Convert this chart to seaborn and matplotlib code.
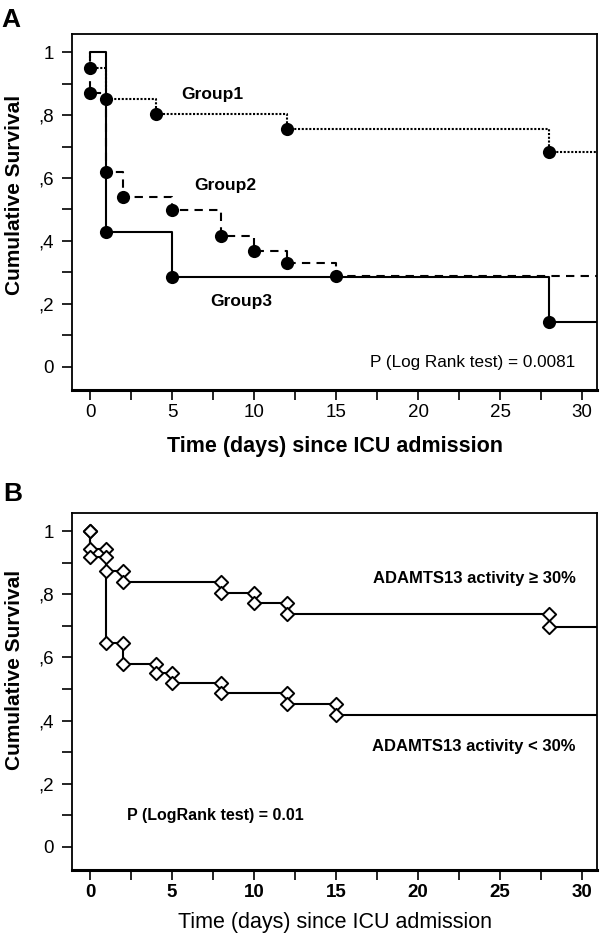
import numpy as np
import pandas as pd
import seaborn as sns
import matplotlib.pyplot as plt
from matplotlib.ticker import MultipleLocator

sns.set_style("ticks")
plt.rcParams['font.family'] = ['Liberation Sans', 'DejaVu Sans']
plt.rcParams['text.color'] = 'black'
plt.rcParams['axes.labelcolor'] = 'black'

# Panel A: Kaplan-Meier steps (time in days, cumulative survival)
g1_t = [0, 0, 1, 4, 12, 28, 31]
g1_s = [1.0, 0.951, 0.852, 0.804, 0.755, 0.684, 0.684]
g2_t = [0, 0, 1, 2, 5, 8, 10, 12, 15, 31]
g2_s = [1.0, 0.870, 0.620, 0.539, 0.498, 0.417, 0.369, 0.329, 0.288, 0.288]
g3_t = [0, 1, 5, 28, 31]
g3_s = [1.0, 0.427, 0.284, 0.143, 0.143]

# Panel B: ADAMTS13 activity >= 30% / < 30%
hi_t = [0, 0, 1, 2, 8, 10, 12, 28, 31]
hi_s = [1.0, 0.945, 0.873, 0.838, 0.805, 0.773, 0.738, 0.697, 0.697]
lo_t = [0, 0, 1, 2, 4, 5, 8, 12, 15, 31]
lo_s = [1.0, 0.919, 0.646, 0.578, 0.550, 0.518, 0.488, 0.452, 0.417, 0.417]

x_ticks = [0, 5, 10, 15, 20, 25, 30]
y_ticks = [0, 0.2, 0.4, 0.6, 0.8, 1.0]
y_labels = ['0', ',2', ',4', ',6', ',8', '1']


def km_line(ax, t, s, **kw):
    df = pd.DataFrame({'t': t, 's': s})
    sns.lineplot(data=df, x='t', y='s', ax=ax, estimator=None, sort=False,
                 drawstyle='steps-post', color='black', **kw)


def style_axis(ax, bold_x=False):
    ax.set_xlim(-1.08, 30.9)
    ax.set_ylim(-0.074, 1.058)
    ax.set_xticks(x_ticks)
    ax.set_yticks(y_ticks)
    ax.set_yticklabels(y_labels)
    ax.xaxis.set_minor_locator(MultipleLocator(2.5))
    ax.yaxis.set_minor_locator(MultipleLocator(0.1))
    ax.tick_params(which='both', direction='out', length=7, width=1.2,
                   labelsize=13.5, color='black', labelcolor='black')
    ax.tick_params(axis='x', pad=3)
    ax.tick_params(axis='y', pad=6)
    for sp in ax.spines.values():
        sp.set_visible(True)
        sp.set_color('black')
        sp.set_linewidth(1.3)
    ax.spines['bottom'].set_linewidth(2.2)
    ax.set_xlabel('Time (days) since ICU admission', fontsize=15.5,
                  fontweight='bold' if not bold_x else 'normal')
    ax.set_ylabel('Cumulative Survival', fontsize=15, fontweight='bold')
    if bold_x:
        for lab in ax.get_xticklabels():
            lab.set_fontweight('bold')


fig = plt.figure(figsize=(6, 9.33), dpi=100)

# ---------------- Panel A ----------------
axA = fig.add_axes([0.1205, 0.582, 0.8745, 0.3816])
km_line(axA, g3_t, g3_s, linewidth=1.5)
km_line(axA, g2_t, g2_s, linewidth=1.5, linestyle=(0, (4, 3)))
km_line(axA, g1_t, g1_s, linewidth=1.5, linestyle=(0, (1, 0.8)))
for t, s in [(g1_t, g1_s), (g2_t, g2_s), (g3_t, g3_s)]:
    sns.scatterplot(x=t[1:-1], y=s[1:-1], ax=axA, color='black', s=90,
                    linewidth=0, zorder=5)
style_axis(axA)
axA.yaxis.set_label_coords(-0.092, 0.548)
axA.xaxis.set_label_coords(0.5, -0.128)
axA.text(7.45, 0.867, 'Group1', ha='center', va='center', fontsize=12.5, fontweight='bold')
axA.text(8.23, 0.576, 'Group2', ha='center', va='center', fontsize=12.5, fontweight='bold')
axA.text(9.2, 0.207, 'Group3', ha='center', va='center', fontsize=12.5, fontweight='bold')
axA.text(29.6, 0.014, 'P (Log Rank test) = 0.0081', ha='right', va='center', fontsize=12.3)

# ---------------- Panel B ----------------
axB = fig.add_axes([0.1205, 0.0675, 0.8745, 0.3826])
km_line(axB, hi_t, hi_s, linewidth=1.5)
km_line(axB, lo_t, lo_s, linewidth=1.5)
for t, s in [(hi_t, hi_s), (lo_t, lo_s)]:
    mx = t[1:-1] + t[1:-1]
    my = s[:-2] + s[1:-1]
    sns.scatterplot(x=mx, y=my, ax=axB, marker='D', s=46, facecolor='white',
                    edgecolor='black', linewidth=1.4, zorder=5)
style_axis(axB, bold_x=True)
axB.yaxis.set_label_coords(-0.092, 0.56)
axB.xaxis.set_label_coords(0.5, -0.118)
axB.text(29.6, 0.852, 'ADAMTS13 activity \u2265 30%', ha='right', va='center',
         fontsize=12, fontweight='bold')
axB.text(29.6, 0.317, 'ADAMTS13 activity < 30%', ha='right', va='center',
         fontsize=12, fontweight='bold')
axB.text(2.23, 0.10, 'P (LogRank test) = 0.01', ha='left', va='center',
         fontsize=11.5, fontweight='bold')

fig.text(0.003, 1 - 8 / 933, 'A', ha='left', va='top', fontsize=19, fontweight='bold')
fig.text(0.006, 1 - 482 / 933, 'B', ha='left', va='top', fontsize=19, fontweight='bold')

fig.savefig('out.png', dpi=100)
